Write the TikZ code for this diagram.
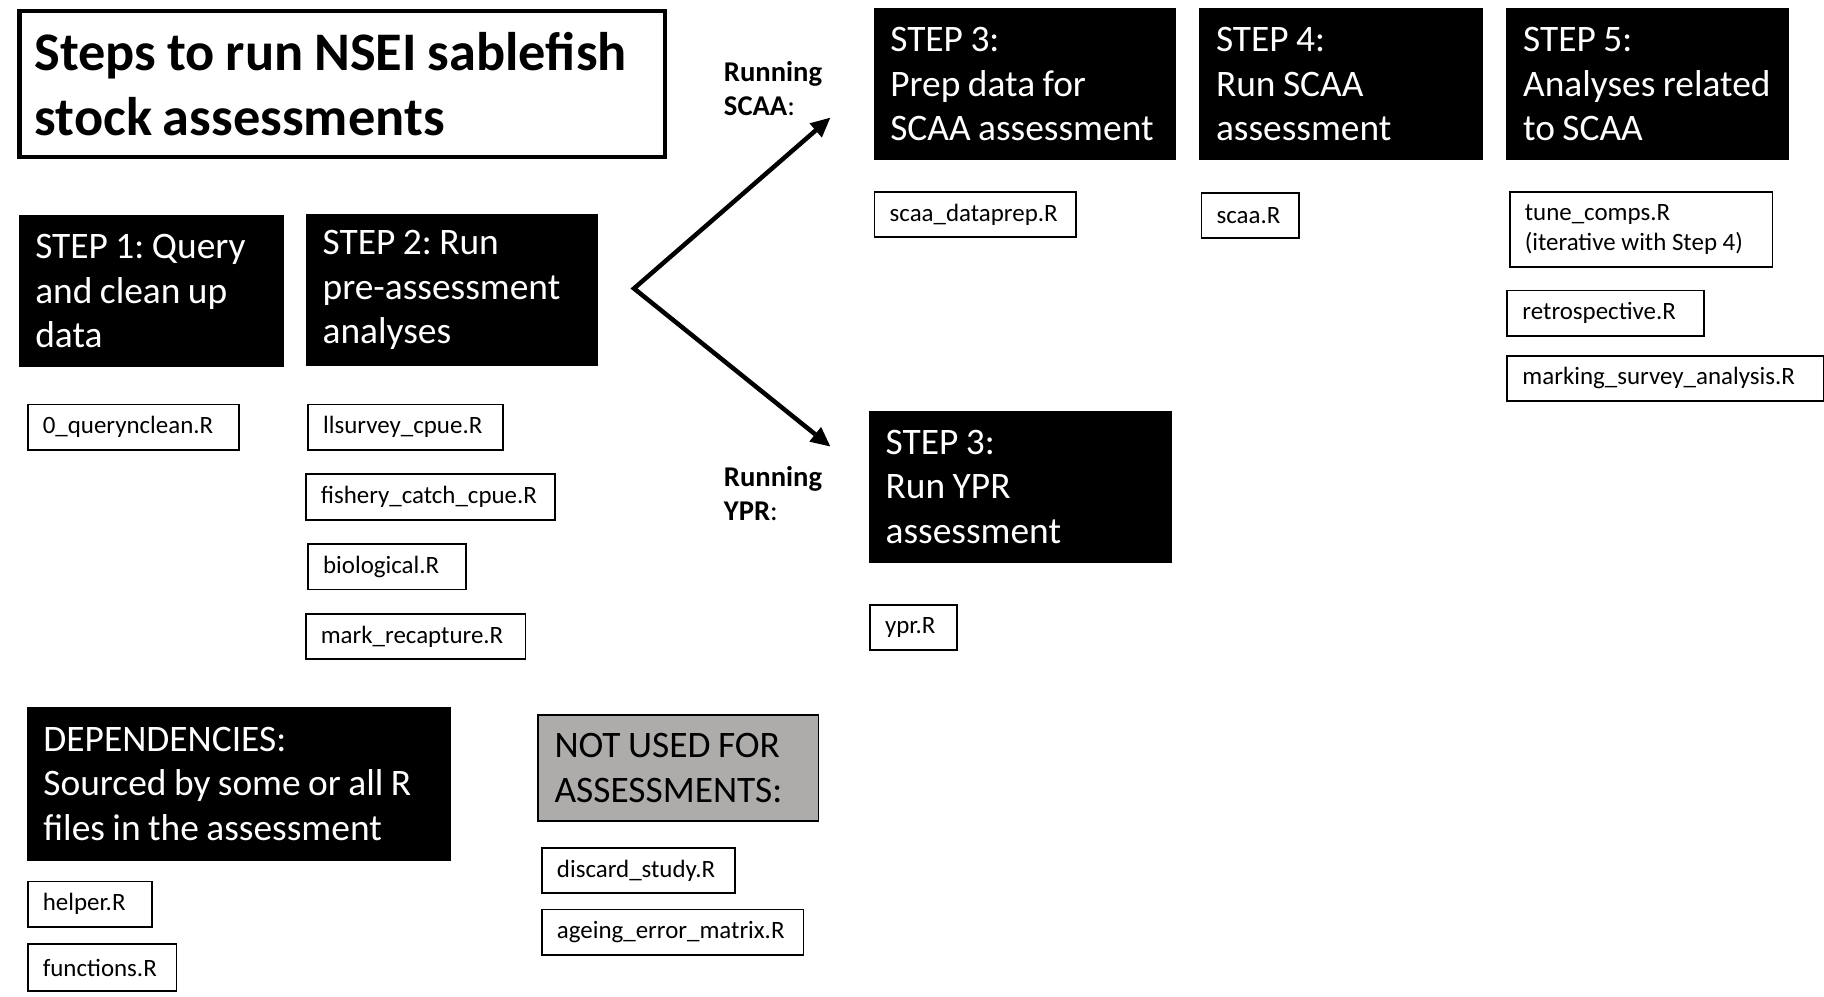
\documentclass[tikz,border=0pt]{standalone}
\usepackage{fontspec}
\setmainfont{Carlito}
\usetikzlibrary{arrows.meta}
\definecolor{notgray}{RGB}{174,171,171}
\frenchspacing
\newcommand\narrowspace{\spaceskip=0.2em\relax}

\begin{document}
\begin{tikzpicture}[
		x=0.02cm,y=-0.02cm,
		>={Triangle[length=0.34cm,width=0.3cm]},
		titlebox/.style={draw=black,line width=2pt,anchor=north west,inner xsep=0.26cm,
			text width=#1,minimum height=2.5cm,align=flush left,
			font=\fontsize{26.6}{31.5}\selectfont\bfseries\narrowspace},
		stepbox/.style={fill=black,draw=black,text=white,anchor=north west,inner xsep=0.28cm,
			text width=#1,minimum height=2.6cm,align=flush left,
			font=\fontsize{18.3}{21.8}\selectfont\narrowspace},
		filebox/.style={draw=black,line width=0.9pt,anchor=north west,inner xsep=0.26cm,
			text width=#1,minimum height=0.78cm,align=flush left,
			font=\fontsize{12.2}{14.4}\selectfont},
		runlabel/.style={anchor=west,inner sep=0pt,align=left,
			font=\fontsize{14}{16.5}\selectfont},
		forkline/.style={<->,line width=2.2pt,line join=miter},
	]
	\useasboundingbox (0,0) rectangle (1568,857);

	% ---------- title ----------
	\node[titlebox=10.58cm] (title) at (15,8) {Steps to run NSEI sablefish\\stock assessments};

	% ---------- steps 1 and 2 ----------
	\node[stepbox=3.98cm] (step1) at (16,185) {STEP 1: Query\\and clean up\\data};
	\node[stepbox=4.44cm] (step2) at (263,184) {STEP 2: Run\\pre-assessment\\analyses};
	\node[filebox=3.12cm] (querynclean) at (23,347) {0\_querynclean.R};
	\node[filebox=2.84cm] (llsurvey) at (264,347) {llsurvey\_cpue.R};
	\node[filebox=3.76cm] (fishery) at (262,407) {fishery\_catch\_cpue.R};
	\node[filebox=2.20cm] (biological) at (264,467) {biological.R};
	\node[filebox=3.26cm] (markrecap) at (262,527) {mark\_recapture.R};

	% ---------- fork to SCAA / YPR ----------
	\coordinate (fork) at (545,248);
	\coordinate (toscaa) at (714,101);
	\coordinate (toypr) at (714,384);
	\draw[forkline] (toscaa) -- (fork) -- (toypr);
	\node[runlabel] (runscaa) at (622,76) {\textbf{Running}\\\textbf{SCAA}:};
	\node[runlabel] (runypr) at (622,424) {\textbf{Running}\\\textbf{YPR}:};

	% ---------- SCAA branch ----------
	\node[stepbox=4.62cm] (step3scaa) at (751,7) {STEP 3:\\Prep data for\\SCAA~assessment};
	\node[stepbox=4.30cm] (step4) at (1031,7) {STEP 4:\\Run SCAA\\assessment};
	\node[stepbox=4.28cm] (step5) at (1295,7) {STEP 5:\\Analyses~related\\to SCAA};
	\node[filebox=2.94cm] (dataprep) at (751,164) {scaa\_dataprep.R};
	\node[filebox=1.16cm] (scaa) at (1032,165) {scaa.R};
	\node[filebox=4.00cm,minimum height=1.3cm] (tunecomps) at (1297,164)
		{tune\_comps.R\\(iterative with Step 4)};
	\node[filebox=2.86cm] (retro) at (1295,249) {retrospective.R};
	\node[filebox=4.92cm] (marking) at (1295,305) {marking\_survey\_analysis.R};

	% ---------- YPR branch ----------
	\node[stepbox=4.64cm] (step3ypr) at (747,353) {STEP 3:\\Run YPR\\assessment};
	\node[filebox=0.98cm] (ypr) at (747,519) {ypr.R};

	% ---------- dependencies ----------
	\node[stepbox=6.72cm,minimum height=2.62cm] (deps) at (23,608)
		{DEPENDENCIES:\\Sourced by some or all~R\\files in the assessment};
	\node[filebox=1.62cm] (helper) at (23,757) {helper.R};
	\node[filebox=2.04cm,minimum height=0.8cm] (functions) at (23,811) {functions.R};

	% ---------- not used ----------
	\node[stepbox=4.26cm,fill=notgray,text=black,line width=0.8pt,minimum height=1.82cm]
		(notused) at (462,614) {NOT USED FOR\\ASSESSMENTS:};
	\node[filebox=2.80cm] (discard) at (465,728) {discard\_study.R};
	\node[filebox=3.98cm] (ageing) at (465,781) {ageing\_error\_matrix.R};

\end{tikzpicture}
\end{document}
